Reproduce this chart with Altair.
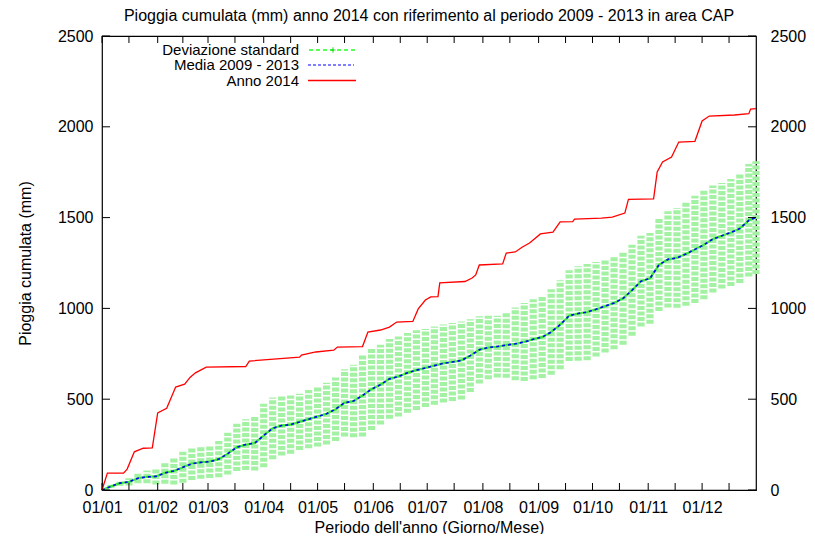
import altair as alt
import pandas as pd

TITLE = "Pioggia cumulata (mm) anno 2014 con riferimento al periodo 2009 - 2013 in area CAP"
X_TITLE = "Periodo dell'anno (Giorno/Mese)"
Y_TITLE = "Pioggia cumulata (mm)"
SERIES = ["Deviazione standard", "Media 2009 - 2013", "Anno 2014"]

# Anno 2014: cumulative rain, breakpoints (day of year, mm)
days_2014 = [1, 4, 13, 15, 19, 24, 29, 32, 37, 42, 47, 50, 53, 59, 81, 83, 111, 112,
             120, 130, 132, 146, 149, 156, 161, 165, 174, 177, 181, 184, 188, 189,
             203, 207, 209, 211, 224, 226, 231, 235, 239, 245, 252, 256, 263, 264,
             279, 285, 292, 294, 308, 310, 313, 318, 322, 331, 335, 339, 353, 361,
             362, 365]
rain_2014 = [0, 93, 93, 115, 210, 230, 232, 425, 450, 567, 583, 620, 645, 677, 680,
             710, 732, 743, 760, 770, 787, 790, 870, 881, 897, 925, 928, 997, 1046,
             1063, 1065, 1140, 1148, 1167, 1184, 1239, 1245, 1305, 1311, 1338, 1360,
             1410, 1420, 1476, 1478, 1492, 1497, 1503, 1525, 1600, 1603, 1751, 1806,
             1834, 1916, 1920, 2032, 2059, 2065, 2072, 2098, 2100]

# Media 2009 - 2013 and standard deviation, sampled days
std_days = [1, 6, 11, 16, 21, 26, 31, 36, 41, 46, 51, 56, 61, 66, 71, 76, 81, 86,
            91, 96, 101, 106, 111, 116, 121, 126, 131, 136, 141, 146, 151, 156,
            161, 166, 171, 176, 181, 186, 191, 196, 201, 206, 211, 216, 221, 226,
            231, 236, 241, 246, 251, 256, 261, 266, 271, 276, 281, 286, 291, 296,
            301, 306, 311, 316, 321, 326, 331, 336, 341, 346, 351, 356, 361, 365]
mean_0913 = [0, 20, 38, 45, 65, 72, 75, 94, 105, 125, 145, 152, 156, 170, 200, 235,
             250, 258, 300, 340, 355, 360, 375, 390, 405, 420, 445, 480, 490, 520,
             555, 580, 612, 625, 645, 660, 672, 685, 697, 705, 713, 740, 772, 785,
             790, 798, 805, 815, 830, 842, 870, 910, 960, 972, 980, 995, 1012, 1030,
             1055, 1100, 1150, 1165, 1240, 1270, 1278, 1300, 1325, 1350, 1382, 1400,
             1418, 1440, 1485, 1500]
sd_0913 = [0, 8, 15, 20, 28, 35, 45, 60, 75, 85, 90, 90, 90, 100, 115, 130, 140,
           150, 175, 170, 165, 160, 155, 160, 165, 170, 175, 185, 200, 225, 225,
           220, 220, 220, 220, 220, 215, 215, 215, 215, 215, 200, 185, 175, 170,
           180, 200, 215, 220, 225, 235, 245, 250, 260, 265, 260, 255, 255, 255,
           250, 250, 250, 255, 265, 275, 285, 295, 300, 295, 290, 295, 300, 310,
           310]

month_days = [1, 32, 60, 91, 121, 152, 182, 213, 244, 274, 305, 335]
month_labels = ["01/01", "01/02", "01/03", "01/04", "01/05", "01/06", "01/07",
                "01/08", "01/09", "01/10", "01/11", "01/12"]
mid_days = [16, 46, 75, 106, 136, 167, 197, 228, 259, 289, 320, 350]
y_ticks = [0, 500, 1000, 1500, 2000, 2500]

FONT = "Liberation Sans"
FS = 16
W, H = 654, 454

df_2014 = pd.DataFrame({"day": days_2014, "mm": rain_2014})
df_sd = pd.DataFrame({"day": std_days, "mean": mean_0913, "sd": sd_0913})
df_sd["lo"] = (df_sd["mean"] - df_sd["sd"]).clip(lower=0)
df_sd["hi"] = df_sd["mean"] + df_sd["sd"]
df_xt = pd.DataFrame({"day": month_days + mid_days})
df_yt = pd.DataFrame({"v": y_ticks})

xscale = alt.Scale(domain=[1, 365], nice=False, zero=False)
yscale = alt.Scale(domain=[0, 2500], nice=False)

label_expr = ("[" + ",".join("'%s'" % l for l in month_labels) + "][indexof(["
              + ",".join(str(d) for d in month_days) + "], datum.value)]")
xaxis = alt.Axis(values=month_days, labelExpr=label_expr, title=X_TITLE,
                 labelPadding=9, labelFlush=False, labelOverlap=False,
                 titleX=W / 2, titleY=37, titleBaseline="middle", titleAlign="center")
yaxis_left = alt.Axis(values=y_ticks, format="d", title=Y_TITLE, labelPadding=9,
                      labelFlush=False, labelOverlap=False,
                      titleX=-77, titleY=H / 2, titleBaseline="middle",
                      titleAlign="center", titleAngle=-90)
yaxis_right = alt.Axis(values=y_ticks, format="d", title=None, orient="right",
                       labelPadding=14, labelFlush=False, labelOverlap=False)

X = lambda axis=xaxis: alt.X("day:Q", scale=xscale, axis=axis)

band = alt.Chart(df_sd).mark_rule(color="#a3f2a3", strokeWidth=7.2,
                                  strokeDash=[4, 1.5]).encode(
    x=X(), y=alt.Y("lo:Q", scale=yscale, axis=yaxis_left), y2="hi:Q")

green_line = alt.Chart(df_sd).mark_line(color="#00e000", strokeWidth=2.2,
                                        opacity=0.7).encode(
    x=X(), y=alt.Y("mean:Q", scale=yscale, axis=None))

mean_line = alt.Chart(df_sd).mark_line(color="#0000ff", strokeWidth=1.6,
                                       strokeDash=[3, 3]).encode(
    x=X(), y=alt.Y("mean:Q", scale=yscale, axis=None))

red_line = alt.Chart(df_2014).mark_line(color="#ff0000", strokeWidth=1.3).encode(
    x=X(), y=alt.Y("mm:Q", scale=yscale, axis=None))

xt_bottom = alt.Chart(df_xt).mark_rule(color="black", strokeWidth=1).encode(
    x=X(), y=alt.value(H), y2=alt.value(H - 7))
xt_top = alt.Chart(df_xt).mark_rule(color="black", strokeWidth=1).encode(
    x=X(), y=alt.value(0), y2=alt.value(7))
yt_left = alt.Chart(df_yt).mark_rule(color="black", strokeWidth=1).encode(
    y=alt.Y("v:Q", scale=yscale, axis=None), x=alt.value(0), x2=alt.value(8))
yt_right = alt.Chart(df_yt).mark_rule(color="black", strokeWidth=1).encode(
    y=alt.Y("v:Q", scale=yscale, axis=yaxis_right), x=alt.value(W), x2=alt.value(W - 8))

# legend (top-left, inside plot)
leg_y = [13.5, 29, 44.5]
leg_layers = []
for lab, yy in zip(SERIES, leg_y):
    leg_layers.append(alt.Chart(pd.DataFrame({"label": [lab]})).mark_text(
        align="right", baseline="middle", font=FONT, fontSize=15, color="black").encode(
        text="label:N", x=alt.value(197), y=alt.value(yy)))
leg_sd = alt.Chart(pd.DataFrame({"s": [SERIES[0]]})).mark_rule(
    color="#22ff22", strokeWidth=1.4, strokeDash=[4, 3]).encode(
    x=alt.value(207), x2=alt.value(254), y=alt.value(14))
leg_sd_pt = alt.Chart(pd.DataFrame({"s": [SERIES[0]]})).mark_point(
    shape="M-1,0L1,0M0,-1L0,1", size=30, color="#00d000", strokeWidth=1.2,
    filled=False).encode(x=alt.value(231), y=alt.value(14))
leg_mean = alt.Chart(pd.DataFrame({"s": [SERIES[1]]})).mark_rule(
    color="#0000ff", strokeWidth=1.2, strokeDash=[3, 2]).encode(
    x=alt.value(206), x2=alt.value(252), y=alt.value(leg_y[1]))
leg_red = alt.Chart(pd.DataFrame({"s": [SERIES[2]]})).mark_rule(
    color="#ff0000", strokeWidth=1.3).encode(
    x=alt.value(206), x2=alt.value(254), y=alt.value(leg_y[2]))

chart = alt.layer(
    band, green_line, mean_line, red_line,
    xt_bottom, xt_top, yt_left, yt_right,
    *leg_layers, leg_sd, leg_sd_pt, leg_mean, leg_red
).resolve_axis(y="independent").properties(
    width=W, height=H,
    title=alt.TitleParams(TITLE, font=FONT, fontSize=16, fontWeight="normal",
                          anchor="middle", offset=4, color="black"),
    autosize=alt.AutoSizeParams(type="none"),
    padding={"left": 94, "top": 28, "right": 51, "bottom": 44},
).configure_axis(
    labelFont=FONT, labelFontSize=FS, labelColor="black", titleFont=FONT,
    titleFontSize=FS, titleFontWeight="normal", titleColor="black",
    grid=False, domain=False, ticks=False,
).configure_view(stroke="black", strokeWidth=1.2)

chart.save("out.html", embed_options={"renderer": "svg", "actions": False})
